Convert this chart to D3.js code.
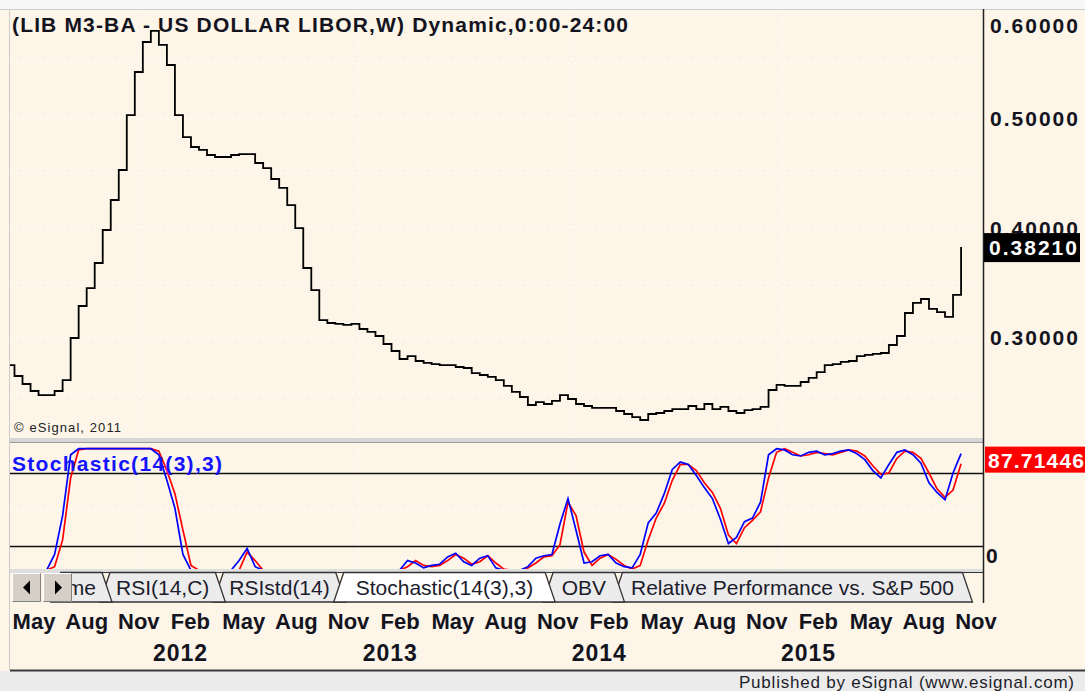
<!DOCTYPE html>
<html>
<head>
<meta charset="utf-8">
<script src="https://cdn.jsdelivr.net/npm/d3@7"></script>
<style>
  body { margin: 0; background: #fff; }
  svg { display: block; }
  text { font-family: "Liberation Sans", Arial, sans-serif; }
</style>
</head>
<body>
<svg id="chart" width="1085" height="691"></svg>
<script>
// weekly LIBOR chart, sampled every 2 weeks starting 2011-04-22
const firstDate = "2011-04-22";
const stepDays = 14;

const libor = [
  .2744, .2644, .2571, .2507, .2470, .2470, .2507, .2607, .2991, .3283,
  .3447, .3676, .3977, .4251, .4525, .5027, .5420, .5694, .5795, .5667,
  .5484, .5027, .4826, .4735, .4708, .4662, .4644, .4644, .4662, .4671,
  .4671, .4589, .4543, .4443, .4361, .4205, .3995, .3630, .3429, .3155,
  .3128, .3119, .3110, .3119, .3073, .3046, .3009, .2936, .2872, .2799,
  .2826, .2781, .2763, .2753, .2744, .2744, .2726, .2717, .2671, .2653,
  .2635, .2607, .2553, .2498, .2452, .2379, .2406, .2388, .2416, .2470,
  .2434, .2388, .2370, .2352, .2352, .2352, .2324, .2297, .2269, .2242,
  .2297, .2306, .2324, .2342, .2342, .2370, .2342, .2388, .2342, .2361,
  .2324, .2306, .2333, .2342, .2361, .2516, .2562, .2553, .2553, .2589,
  .2626, .2680, .2744, .2753, .2772, .2781, .2826, .2836, .2845, .2854,
  .2927, .3009, .3219, .3311, .3347, .3256, .3228, .3183, .3384, .3821
];

// %K (blue) and %D (red)
const stochK = [
  0, 0, 0, 0, 0, 0, 13, 45, 95, 100,
  100, 100, 100, 100, 100, 100, 100, 100, 100, 95,
  74, 51, 13, 0, 0, 0, 0, 0, 0, 8,
  18, 3, 0, 0, 0, 0, 0, 0, 0, 0,
  0, 0, 0, 0, 0, 0, 0, 0, 0, 0,
  8, 6, 2, 4, 5, 11, 14, 7, 4, 10,
  12, 2, 0, 0, 0, 3, 10, 12, 13, 38,
  59, 33, 6, 7, 12, 13, 6, 3, 2, 13,
  39, 47, 63, 83, 89, 87, 78, 68, 59, 42,
  22, 27, 40, 43, 56, 95, 100, 99, 95, 94,
  97, 98, 95, 96, 98, 99, 96, 91, 82, 76,
  87, 97, 99, 95, 88, 72, 64, 58, 80, 96
];
const stochD = [
  0, 0, 0, 0, 0, 0, 3, 25, 76, 99,
  100, 100, 100, 100, 100, 100, 100, 100, 100, 98,
  82, 63, 33, 4, 0, 0, 0, 0, 0, 0,
  15, 8, 0, 0, 0, 0, 0, 0, 0, 0,
  0, 0, 0, 0, 0, 0, 0, 0, 0, 0,
  3, 8, 4, 3, 4, 8, 13, 10, 5, 7,
  12, 6, 1, 0, 0, 2, 6, 11, 12, 21,
  56, 45, 15, 4, 10, 13, 9, 4, 1, 4,
  25, 43, 55, 74, 87, 87, 82, 72, 64, 51,
  29, 22, 35, 41, 48, 76, 97, 100, 97, 94,
  95, 97, 96, 95, 97, 99, 98, 94, 86, 79,
  80, 92, 98, 97, 92, 80, 67, 60, 66, 87.71446
];

const priceTicks = [0.3, 0.4, 0.5, 0.6];
const priceGrid = [0.25, 0.3, 0.35, 0.4, 0.45, 0.5, 0.55];
const stochLevels = [20, 80];
const yearGrid = ["2011-12-12", "2012-12-26", "2013-12-31", "2015-01-05"];
const tabLabels = ["me", "RSI(14,C)", "RSIstd(14)", "Stochastic(14(3),3)", "OBV", "Relative Performance vs. S&P 500"];
const activeTab = 3;

const title = "(LIB M3-BA - US DOLLAR LIBOR,W) Dynamic,0:00-24:00";

const parse = d3.utcParse("%Y-%m-%d");
const t0 = parse(firstDate);
const dates = libor.map((v, i) => d3.utcDay.offset(t0, i * stepDays));

const W = 1085, H = 691;
const left = 10, right = 983;
const bg = "#fcf5e8";

const svg = d3.select("#chart");

const x = d3.scaleUtc()
  .domain([Date.UTC(2012, 0, 1), Date.UTC(2015, 0, 1)])
  .range([152, 780]);
const yP = d3.scaleLinear().domain([0.2, 0.6]).range([446.5, 8.5]);
const yS = d3.scaleLinear().domain([0, 100]).range([570.3, 448.7]);

svg.append("rect").attr("width", W).attr("height", H).attr("fill", bg);
svg.append("rect").attr("width", W).attr("height", 9).attr("fill", "#f6f6f6");
svg.append("line").attr("x1", 0).attr("x2", W).attr("y1", 9.5).attr("y2", 9.5)
  .attr("stroke", "#cfcfcf");

const defs = svg.append("defs");
defs.append("clipPath").attr("id", "clipTop").append("rect")
  .attr("x", left).attr("y", 10).attr("width", right - left).attr("height", 428);
defs.append("clipPath").attr("id", "clipBot").append("rect")
  .attr("x", left).attr("y", 444).attr("width", right - left).attr("height", 125);

// grid
const grid = svg.append("g").attr("stroke", "#ffffff").attr("stroke-dasharray", "2,4");
grid.selectAll(".hg").data(priceGrid).join("line")
  .attr("x1", left).attr("x2", right)
  .attr("y1", d => Math.round(yP(d)) + 0.5).attr("y2", d => Math.round(yP(d)) + 0.5);
grid.append("line").attr("x1", left).attr("x2", right)
  .attr("y1", Math.round(yS(50)) + 0.5).attr("y2", Math.round(yS(50)) + 0.5);
grid.selectAll(".vg").data(yearGrid).join("line")
  .attr("x1", d => Math.round(x(parse(d))) + 0.5).attr("x2", d => Math.round(x(parse(d))) + 0.5)
  .attr("y1", 10).attr("y2", 570);

// price line
const priceLine = d3.line()
  .x((d, i) => x(dates[i]))
  .y(d => yP(d))
  .curve(d3.curveStepAfter);
svg.append("path")
  .attr("clip-path", "url(#clipTop)")
  .attr("d", priceLine(libor))
  .attr("fill", "none")
  .attr("stroke", "#000")
  .attr("stroke-width", 1.8);

svg.append("text").attr("x", 14).attr("y", 432)
  .attr("font-size", 13).attr("fill", "#222")
  .attr("textLength", 107).attr("lengthAdjust", "spacing")
  .text("\u00a9 eSignal, 2011");

// pane separator
svg.append("rect").attr("x", left).attr("y", 438).attr("width", right - left).attr("height", 4)
  .attr("fill", "#d6d6d6");
svg.append("line").attr("x1", left).attr("x2", right).attr("y1", 442.5).attr("y2", 442.5)
  .attr("stroke", "#9a9a9a");

// stochastic
svg.selectAll(".lvl").data(stochLevels).join("line")
  .attr("x1", left).attr("x2", right)
  .attr("y1", d => Math.round(yS(d)) + 0.5).attr("y2", d => Math.round(yS(d)) + 0.5)
  .attr("stroke", "#111").attr("stroke-width", 1.6);

const stochLine = d3.line()
  .x((d, i) => x(dates[i]))
  .y(d => yS(d));
const sg = svg.append("g").attr("clip-path", "url(#clipBot)");
sg.append("path").attr("d", stochLine(stochD))
  .attr("fill", "none").attr("stroke", "#ff0000").attr("stroke-width", 1.7);
sg.append("path").attr("d", stochLine(stochK))
  .attr("fill", "none").attr("stroke", "#0000ff").attr("stroke-width", 1.7);

svg.append("text").attr("x", 12).attr("y", 471)
  .attr("font-size", 21).attr("font-weight", "bold").attr("fill", "#1414ff")
  .attr("textLength", 210).attr("lengthAdjust", "spacing")
  .text("Stochastic(14(3),3)");

// tab strip
svg.append("rect").attr("x", left).attr("y", 569).attr("width", right - left).attr("height", 4)
  .attr("fill", "#dedede");
svg.append("rect").attr("x", left).attr("y", 573).attr("width", right - left).attr("height", 30)
  .attr("fill", bg);
svg.append("line").attr("x1", 72).attr("x2", right).attr("y1", 572.5).attr("y2", 572.5)
  .attr("stroke", "#333");

const tabTop = 572.5, tabBot = 602, slant = 10, overlap = 12;
const measure = svg.append("text").attr("font-size", 21).attr("visibility", "hidden");
const tabs = [];
let bl = null;
tabLabels.forEach((lab, i) => {
  measure.text(lab);
  const tw = measure.node().getComputedTextLength();
  const pad = i === activeTab ? 44 : (i > activeTab ? 37 : 32);
  const w = tw + pad;
  if (bl === null) bl = 112 - w;
  tabs.push({ label: lab, x0: bl, x1: bl + w, i });
  bl = bl + w - overlap;
});
measure.remove();

const order = [];
for (let i = tabs.length - 1; i > activeTab; i--) order.push(i);
for (let i = 0; i < activeTab; i++) order.push(activeTab - 1 - i);
order.push(activeTab);

const tabG = svg.append("g");
order.forEach(k => {
  const t = tabs[k];
  const g = tabG.append("g");
  g.append("path")
    .attr("d", `M${t.x0},${tabBot} L${t.x0 + slant},${tabTop} L${t.x1 - slant},${tabTop} L${t.x1},${tabBot} Z`)
    .attr("fill", k === activeTab ? "#ffffff" : "#ececec")
    .attr("stroke", "#333").attr("stroke-width", 1.3);
  g.append("text").attr("x", (t.x0 + t.x1) / 2).attr("y", 595)
    .attr("text-anchor", "middle").attr("font-size", 21).attr("fill", "#1c1c2c")
    .text(t.label);
});

// nav buttons
[[12, "left"], [43, "right"]].forEach(([bx, dir]) => {
  const g = svg.append("g");
  g.append("rect").attr("x", bx).attr("y", 573).attr("width", 29).attr("height", 29)
    .attr("fill", "#d4d0c8");
  g.append("path").attr("d", `M${bx + 0.5},${601.5} V${573.5} H${bx + 28.5}`)
    .attr("fill", "none").attr("stroke", "#fff");
  g.append("path").attr("d", `M${bx + 0.5},${601.5} H${bx + 28.5} V${573.5}`)
    .attr("fill", "none").attr("stroke", "#808080");
  const cx = bx + 15, cy = 587.5;
  g.append("path")
    .attr("d", dir === "left"
      ? `M${cx - 4},${cy} L${cx + 3},${cy - 7} L${cx + 3},${cy + 7} Z`
      : `M${cx + 4},${cy} L${cx - 3},${cy - 7} L${cx - 3},${cy + 7} Z`)
    .attr("fill", "#000");
});

// right axis
svg.append("line").attr("x1", right + 0.5).attr("x2", right + 0.5).attr("y1", 9).attr("y2", 603)
  .attr("stroke", "#222").attr("stroke-width", 1.5);

const fmt = d3.format(".5f");
svg.selectAll(".ptick").data(priceTicks).join("text")
  .attr("x", 990).attr("y", d => Math.max(yP(d) + 8, 33))
  .attr("font-size", 21).attr("font-weight", "bold").attr("fill", "#14141e")
  .attr("textLength", 88).attr("lengthAdjust", "spacing")
  .text(d => fmt(d));

const lastP = libor[libor.length - 1];
svg.append("rect").attr("x", right + 1).attr("y", yP(lastP) - 14).attr("width", 96).attr("height", 29)
  .attr("fill", "#000");
svg.append("text").attr("x", 989).attr("y", yP(lastP) + 8)
  .attr("font-size", 21).attr("font-weight", "bold").attr("fill", "#fff")
  .attr("textLength", 88).attr("lengthAdjust", "spacing")
  .text(fmt(lastP));

const lastD = stochD[stochD.length - 1];
const rb = Math.max(yS(lastD) - 17, 446);
svg.append("rect").attr("x", right + 2).attr("y", rb).attr("width", W - right - 2).attr("height", 26)
  .attr("fill", "#ff0000");
svg.append("text").attr("x", 988).attr("y", rb + 21)
  .attr("font-size", 21).attr("font-weight", "bold").attr("fill", "#fff")
  .attr("textLength", 96).attr("lengthAdjust", "spacing")
  .text(d3.format(".5f")(lastD).slice(0, 8));

svg.append("text").attr("x", 986).attr("y", Math.min(yS(0) + 8, 563))
  .attr("font-size", 21).attr("font-weight", "bold").attr("fill", "#14141e")
  .text("0");

// time axis
const months = d3.utcMonths(new Date(Date.UTC(2011, 4, 1)), new Date(Date.UTC(2015, 11, 1)), 3);
svg.selectAll(".mlab").data(months).join("text")
  .attr("x", d => x(d) + 1).attr("y", 629)
  .attr("font-size", 22).attr("font-weight", "bold").attr("fill", "#14141e")
  .text(d3.utcFormat("%b"));
const years = d3.utcYears(new Date(Date.UTC(2012, 0, 1)), new Date(Date.UTC(2016, 0, 1)));
svg.selectAll(".ylab").data(years).join("text")
  .attr("x", d => x(d) + 1).attr("y", 661)
  .attr("font-size", 23).attr("font-weight", "bold").attr("fill", "#14141e")
  .attr("textLength", 54).attr("lengthAdjust", "spacing")
  .text(d3.utcFormat("%Y"));

// left border
svg.append("line").attr("x1", left - 0.5).attr("x2", left - 0.5).attr("y1", 9).attr("y2", 670)
  .attr("stroke", "#cccccc");

// title
svg.append("text").attr("x", 12).attr("y", 32)
  .attr("font-size", 21).attr("font-weight", "bold").attr("fill", "#14141e")
  .attr("textLength", 616).attr("lengthAdjust", "spacing")
  .text(title);

// footer
svg.append("rect").attr("x", 0).attr("y", 671).attr("width", W).attr("height", 20).attr("fill", "#ebebeb");
svg.append("line").attr("x1", left).attr("x2", W).attr("y1", 670.5).attr("y2", 670.5)
  .attr("stroke", "#3a3a3a").attr("stroke-width", 2);
svg.append("text").attr("x", 1074).attr("y", 688).attr("text-anchor", "end")
  .attr("font-size", 17).attr("fill", "#1e1e2a")
  .attr("textLength", 335).attr("lengthAdjust", "spacing")
  .text("Published by eSignal (www.esignal.com)");
</script>
</body>
</html>
